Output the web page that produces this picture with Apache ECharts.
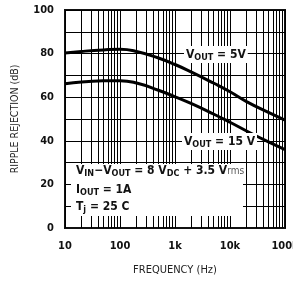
<!DOCTYPE html>
<html>
<head>
<meta charset="utf-8">
<script src="https://cdn.jsdelivr.net/npm/echarts@6/dist/echarts.min.js"></script>
<style>
  html, body { margin: 0; padding: 0; background: #fff; }
  #chart { width: 293px; height: 281px; }
</style>
</head>
<body>
<div id="chart"></div>
<script>
// frequency points (Hz)
const freqs = [10, 20, 50, 100, 200, 500, 1000, 2000, 5000, 10000, 20000, 50000, 100000];
// ripple rejection (dB)
const vout5 = [80.3, 81, 81.7, 82, 81, 78, 75, 71.5, 66.5, 62.5, 58, 53, 49.5];
const vout15 = [66.2, 67, 67.5, 67.6, 66.5, 63.2, 60.2, 57, 52.3, 48.5, 44.5, 39.5, 36];
const xTickLabels = { 10: '10', 100: '100', 1000: '1k', 10000: '10k', 100000: '100k' };
const yTickLabels = [0, 20, 40, 60, 80, 100];
// vertical grid: 1..9 per decade
const decades = [10, 100, 1000, 10000];
const mults = [1, 2, 3, 4, 5, 6, 7, 8, 9];

const font = '"DejaVu Sans Condensed", "Liberation Sans Narrow", sans-serif';
const ink = '#111';

const gridX = [];
decades.forEach(d => mults.forEach(m => gridX.push({ xAxis: d * m })));
gridX.push({ xAxis: 100000 });

const pair = (xs, ys) => xs.map((x, i) => [x, ys[i]]);

const sub = { fontSize: 9, fontWeight: 'bold', fontFamily: font, fill: ink, padding: [6, 0, 0, 0] };
const big = { fontSize: 12, fontWeight: 'bold', fontFamily: font, fill: ink };

const chart = echarts.init(document.getElementById('chart'));
chart.setOption({
  animation: false,
  grid: {
    left: 65, right: 8, top: 10, bottom: 53, outerBoundsMode: 'none', containLabel: false,
    show: true, borderColor: ink, borderWidth: 2, backgroundColor: 'transparent'
  },
  xAxis: {
    type: 'log', logBase: 10, min: 10, max: 100000,
    name: 'FREQUENCY (Hz)', nameLocation: 'middle', nameGap: 37,
    nameTextStyle: { fontFamily: font, fontSize: 11, color: '#222' },
    axisLine: { show: true, lineStyle: { color: ink, width: 2 } },
    axisTick: { show: false },
    splitLine: { show: false },
    axisLabel: {
      margin: 13, fontFamily: font, fontWeight: 'bold', fontSize: 11, color: ink,
      formatter: v => xTickLabels[Math.round(v)] || ''
    }
  },
  yAxis: {
    type: 'value', min: 0, max: 100, interval: 10,
    name: 'RIPPLE REJECTION (dB)', nameLocation: 'middle', nameGap: 44, nameRotate: 90,
    nameTextStyle: { fontFamily: font, fontSize: 10.5, color: '#222' },
    axisLine: { show: true, lineStyle: { color: ink, width: 2 } },
    axisTick: { show: false },
    splitLine: { show: true, lineStyle: { color: '#000', width: 1 } },
    axisLabel: {
      margin: 11, fontFamily: font, fontWeight: 'bold', fontSize: 11, color: ink,
      formatter: v => yTickLabels.includes(v) ? String(v) : ''
    }
  },
  series: [
    {
      type: 'line', data: [], silent: true,
      markLine: {
        silent: true, symbol: 'none', label: { show: false },
        lineStyle: { color: '#000', width: 1, type: 'solid' },
        data: gridX
      }
    },
    {
      name: 'VOUT = 5V', type: 'line', smooth: true, showSymbol: false,
      lineStyle: { color: '#000', width: 3 }, data: pair(freqs, vout5), z: 5
    },
    {
      name: 'VOUT = 15V', type: 'line', smooth: true, showSymbol: false,
      lineStyle: { color: '#000', width: 3 }, data: pair(freqs, vout15), z: 5
    }
  ],
  graphic: [
    { type: 'rect', z: 50, shape: { x: 71, y: 164, width: 172, height: 52 }, style: { fill: '#fff' } },
    {
      type: 'text', z: 60, left: 184, top: 46,
      style: {
        text: '{b|V}{s|OUT}{b| = 5V}', rich: { b: big, s: sub },
        backgroundColor: '#fff', padding: [1, 2, 1, 2]
      }
    },
    {
      type: 'text', z: 60, left: 182, top: 133,
      style: {
        text: '{b|V}{s|OUT}{b| = 15 V}', rich: { b: big, s: sub },
        backgroundColor: '#fff', padding: [1, 2, 1, 2]
      }
    },
    {
      type: 'text', z: 60, left: 76, top: 165,
      style: { text: '{b|V}{s|IN}{b|\u2212V}{s|OUT}{b| = 8 V}{s|DC}{b| + 3.5 V}{r|rms}', rich: { b: big, s: sub, r: { fontSize: 10, fontFamily: font, fill: '#555' } } }
    },
    {
      type: 'text', z: 60, left: 76, top: 184,
      style: { text: '{b|I}{s|OUT}{b| = 1A}', rich: { b: big, s: sub } }
    },
    {
      type: 'text', z: 60, left: 76, top: 201,
      style: { text: '{b|T}{s|j}{b| = 25 C}', rich: { b: big, s: sub } }
    }
  ]
});
</script>
</body>
</html>
